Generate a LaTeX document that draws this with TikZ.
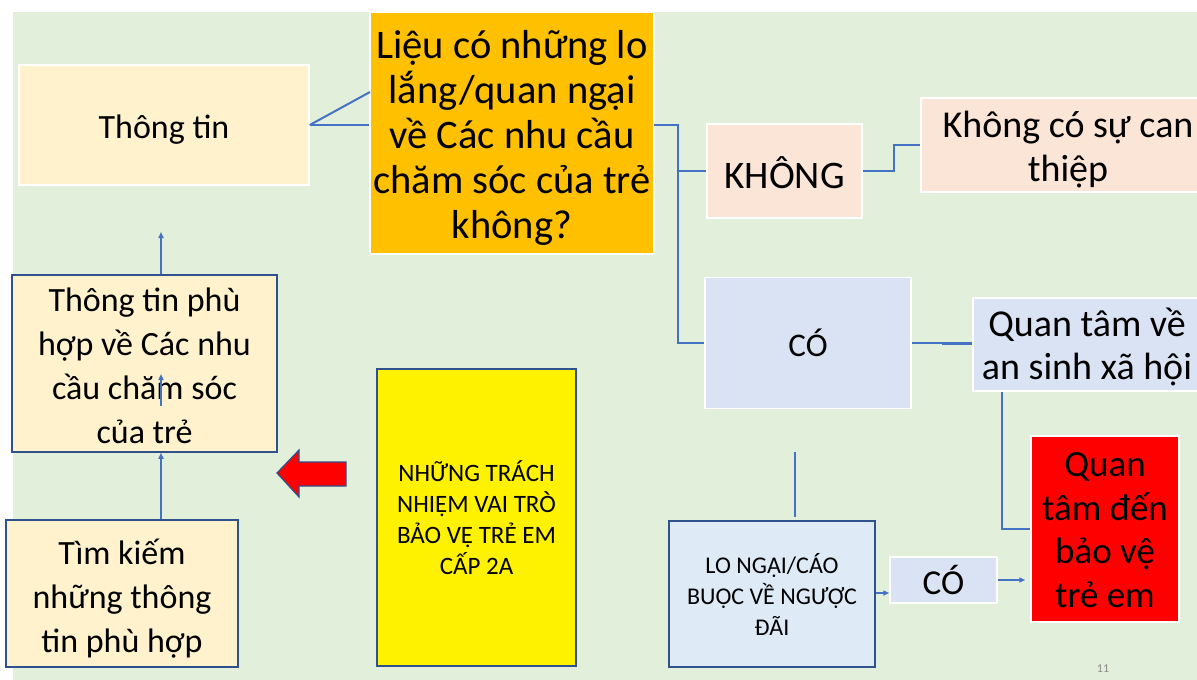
\documentclass[tikz,border=0pt]{standalone}
\usepackage{fontspec}
\setmainfont{Carlito}
\usetikzlibrary{arrows.meta,calc}
\definecolor{bg}{HTML}{E2EFDA}
\definecolor{cream}{HTML}{FFF2CC}
\definecolor{amber}{HTML}{FFC000}
\definecolor{peach}{HTML}{FBE5D6}
\definecolor{paleblue}{HTML}{DAE3F3}
\definecolor{loblue}{HTML}{DEEBF7}
\definecolor{bordblue}{HTML}{2F528F}
\definecolor{lineblue}{HTML}{4472C4}
\definecolor{pnum}{HTML}{898989}
\begin{document}
\begin{tikzpicture}[x=1pt,y=-1pt,
  box/.style={draw=white,line width=1.5pt,inner sep=0pt},
  bbox/.style={draw=bordblue,line width=1.5pt,inner sep=0pt},
  txt/.style={inner sep=0pt,align=center,text=black},
  conn/.style={draw=lineblue,line width=2pt},
  arr/.style={draw=lineblue,line width=1.5pt,-{Triangle[length=6pt,width=5pt]}},
]
\useasboundingbox (0,0) rectangle (1197,680);
\fill[white] (0,0) rectangle (1197,680);
\fill[bg] (13,12) rectangle (1197,680);

% boxes
\node[box,fill=cream,minimum width=290pt,minimum height=120pt] (tt) at (164,125) {};
\node[box,fill=amber,minimum width=284pt,minimum height=242pt] (q) at (512,133) {};
\node[box,fill=peach,minimum width=155pt,minimum height=94pt] (kh) at (784.5,171) {};
\node[box,fill=peach,minimum width=294pt,minimum height=94pt] (kc) at (1068,145) {};
\node[box,fill=paleblue,minimum width=206pt,minimum height=131pt] (co) at (808,343) {};
\node[box,fill=paleblue,minimum width=228pt,minimum height=93pt] (qt) at (1087,344.5) {};
\node[box,fill=red,minimum width=148pt,minimum height=186pt] (rd) at (1105,529) {};
\node[bbox,fill=loblue,minimum width=206pt,minimum height=146pt] (lo) at (772,594) {};
\node[box,fill=paleblue,minimum width=107pt,minimum height=46pt] (sco) at (943.5,580) {};
\node[bbox,fill=yellow,minimum width=199pt,minimum height=297pt] (yl) at (476.5,517.5) {};
\node[bbox,fill=cream,minimum width=265pt,minimum height=177pt] (tp) at (144.5,363.5) {};
\node[bbox,fill=cream,minimum width=232pt,minimum height=147pt] (tk) at (122,593.5) {};

% texts
\node[txt,font=\fontsize{34}{44}\selectfont] (ttT) at ([yshift=-5pt]tt.center) {Thông tin};
\node[txt,font=\fontsize{40.5}{45}\selectfont] (qT) at ([yshift=-5pt]q.center) {Liệu có những lo\\lắng/quan ngại\\về Các nhu cầu\\chăm sóc của trẻ\\không?};
\node[txt,font=\fontsize{39}{44}\selectfont] (khT) at ([yshift=-2pt]kh.center) {KHÔNG};
\node[txt,font=\fontsize{38}{44}\selectfont] (kcT) at ([yshift=-5pt]kc.center) {Không có sự can\\thiệp};
\node[txt,font=\fontsize{33}{40}\selectfont] (coT) at (co.center) {CÓ};
\node[txt,font=\fontsize{38}{43}\selectfont] (qtT) at ([yshift=-2pt]qt.center) {Quan tâm về\\an sinh xã hội};
\node[txt,font=\fontsize{37}{43.5}\selectfont] (rdT) at ([yshift=-1pt]rd.center) {Quan\\tâm đến\\bảo vệ\\trẻ em};
\node[txt,font=\fontsize{24}{31}\selectfont] (loT) at (lo.center) {LO NGẠI/CÁO\\BUỘC VỀ NGƯỢC\\ĐÃI};
\node[txt,font=\fontsize{35}{40}\selectfont] (scoT) at (sco.center) {CÓ};
\node[txt,font=\fontsize{25}{31}\selectfont] (ylT) at (yl.center) {NHỮNG TRÁCH\\NHIỆM VAI TRÒ\\BẢO VỆ TRẺ EM\\CẤP 2A};
\node[txt,font=\fontsize{34}{44}\selectfont] (tpT) at ([yshift=-2pt]tp.center) {Thông tin phù\\hợp về Các nhu\\cầu chăm sóc\\của trẻ};
\node[txt,font=\fontsize{34}{44}\selectfont] (tkT) at ([yshift=-5pt]tk.center) {Tìm kiếm\\những thông\\tin phù hợp};
\node[text=pnum,inner sep=0pt,font=\fontsize{12}{14}\selectfont] (pg) at (1103,669) {11};

% coordinates for free ends
\coordinate (qa) at (370,92);
\coordinate (qb) at (654,125);
\coordinate (tr) at (678,125);
\coordinate (ua) at (161,232);
\coordinate (ia) at (161,406);
\coordinate (ib) at (161,374);
\coordinate (fa) at (795,452);
\coordinate (fb) at (795,517);

% connectors
\draw[conn] (tt.east) -- (qa);
\draw[conn] (tt.east) -- (tt.east -| q.west);
\draw[conn] (qb) -- (tr) |- (kh.west);
\draw[conn] (tr) |- (co.west);
\draw[conn] (kh.east) -- ++(31,0) |- (kc.west);
\draw[conn] (co.east) -- (co.east -| qt.west);
\draw[conn] ([yshift=-1.2pt]$(co.east)!0.5!(co.east -| qt.west)$) -- ([yshift=-1.2pt]co.east -| qt.west);
\draw[conn] ([xshift=30pt]qt.south west) |- (rd.west);
\draw[conn] (fa) -- (fb);
\draw[arr] (lo.east |- 0,593) -- (sco.west |- 0,593);
\draw[arr] (sco.east) -- ([xshift=-5pt]sco.east -| rd.west);
\draw[arr] (tp.north -| ua) -- (ua);
\draw[arr] (ia) -- (ib);
\draw[arr] (tk.north -| ua) -- (tp.south -| ua);

% red block arrow
\draw[fill=red,draw=bordblue,line width=1.2pt,line join=miter]
  (277,473) -- (299,450) -- (299,462) -- (346,462) -- (346,486) -- (299,486) -- (299,497) -- cycle;
\end{tikzpicture}
\end{document}
